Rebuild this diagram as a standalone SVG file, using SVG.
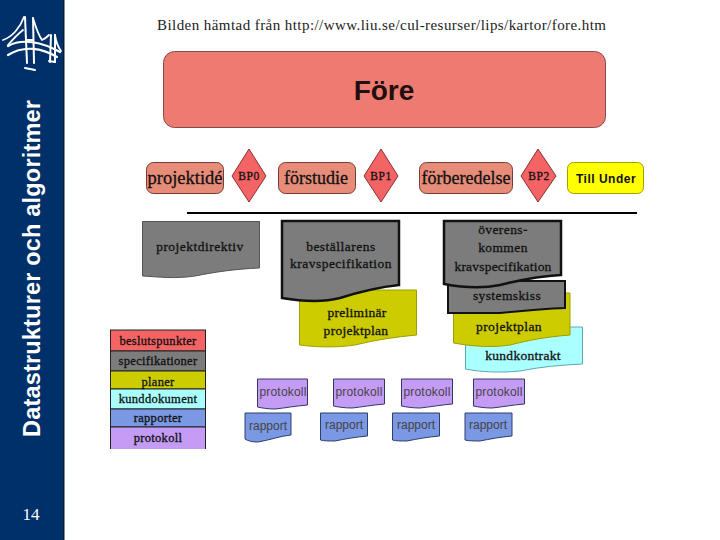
<svg xmlns="http://www.w3.org/2000/svg" width="720" height="540" viewBox="0 0 720 540">
<style>
.s{font-family:"Liberation Serif","Times New Roman",serif;fill:#111;stroke:#111;stroke-width:.3;text-anchor:middle}
.a{font-family:"Liberation Sans",Arial,sans-serif;fill:#444;text-anchor:middle}
.st{fill:#e88c7a;stroke:#7a3b30;stroke-width:1}
.d{fill:#f46464;stroke:#8a3030;stroke-width:1}
.g{fill:#7c7c7c}
.y{fill:#cccc00;stroke:#99a000;stroke-width:1}
.p{fill:#c49cf6;stroke:#333a60;stroke-width:1}
.r{fill:#7a98e4;stroke:#2f3f6c;stroke-width:1}
.lg{stroke:#222;stroke-width:1}
.b{fill:none;stroke:#fff;stroke-linecap:round}
</style>
<rect width="720" height="540" fill="#fff"/>
<g id="sidebar">
<rect x="0" y="0" width="63" height="540" fill="#00306a"/>
<rect x="63" y="0" width="1.500" height="540" fill="#0a1c30"/>
<g id="logo">
<path class="b" stroke-width="2" d="M25 17L27 63M33 18L34 63M51 35L50 62M55 35L55 62M26 40L33 40"/>
<path class="b" stroke-width="1.800" d="M3 40C12 37 20 28 24 17M33 18C36 28 39 36 42 40C45 39 47 37 49 35M55 35C56 42 58 47 61 51M8 45C14 38 18 34 23 30"/>
<path class="b" stroke-width="2.200" d="M8 46C22 38 42 42 60 52M8 55C24 45 42 48 57 57"/>
<path class="b" stroke-width="2" d="M25 68L35 70M49 61L55 62"/>
</g>
<text transform="translate(40 437) rotate(-90)" font-family="'Liberation Sans',Arial,sans-serif" font-size="23.500" font-weight="bold" fill="#fff" textLength="337" lengthAdjust="spacing">Datastrukturer och algoritmer</text>
<text x="31" y="520" text-anchor="middle" font-family="'Liberation Serif',serif" font-size="17" fill="#fff">14</text>
</g>
<text x="157" y="30" font-family="'Liberation Serif',serif" font-size="15" fill="#222" textLength="449" lengthAdjust="spacing">Bilden hämtad från http://www.liu.se/cul-resurser/lips/kartor/fore.htm</text>
<g id="fore"><rect x="163.500" y="51.500" width="442" height="76" rx="11" fill="#ee7b72" stroke="#8a4a44"/><text x="384" y="100" class="a" font-size="28" style="font-weight:bold;fill:#1f0f0f">Före</text></g>
<g id="projektide"><rect class="st" x="146.500" y="162.500" width="77" height="31" rx="7"/><text class="s" x="185" y="184" font-size="18.500">projektidé</text></g>
<g id="bp0"><path class="d" d="M249 149L266 176L249 202L232 176Z"/><text class="s" x="249" y="180" font-size="11.500" letter-spacing=".6">BP0</text></g>
<g id="forstudie"><rect class="st" x="278.500" y="162.500" width="77" height="31" rx="7"/><text class="s" x="316" y="184" font-size="18">förstudie</text></g>
<g id="bp1"><path class="d" d="M381 149L398 176L381 202L364 176Z"/><text class="s" x="381" y="180" font-size="11.500" letter-spacing=".6">BP1</text></g>
<g id="forberedelse"><rect class="st" x="419.500" y="162.500" width="93" height="31" rx="7"/><text class="s" x="466" y="184" font-size="18">förberedelse</text></g>
<g id="bp2"><path class="d" d="M538 149L556 176L538 202L521 176Z"/><text class="s" x="539" y="180" font-size="11.500" letter-spacing=".6">BP2</text></g>
<g id="till-under"><rect x="567.500" y="162.500" width="76" height="31" rx="6" fill="#ffff00" stroke="#a0a000"/><text x="606" y="183" font-size="12" font-weight="bold" class="a" letter-spacing=".5" style="fill:#111">Till Under</text></g>
<g id="connectors"><line x1="187" y1="213" x2="637" y2="213" stroke="#000" stroke-width="2"/></g>
<g id="projektdirektiv"><path class="g" stroke="#555" d="M142.500 221.500H259.500V268C235 269 215 272 195 276C175 279 160 277 142.500 276Z"/><text class="s" x="200" y="251" font-size="13.500" letter-spacing=".5">projektdirektiv</text></g>
<g id="prelim"><path class="y" d="M299.500 290H416.500V335C395 337 375 340 355 345C335 348 315 347 299.500 345Z"/><text class="s" x="357" y="317" font-size="13.500" letter-spacing=".3">preliminär</text><text class="s" x="356" y="335" font-size="13.500" letter-spacing=".3">projektplan</text></g>
<g id="bestallarens"><path class="g" stroke="#111" stroke-width="2.500" d="M282 221H399V285C380 287 362 291 340 298C320 303 300 301 282 298Z"/><text class="s" x="341" y="251" font-size="13.500" letter-spacing=".5">beställarens</text><text class="s" x="341" y="268" font-size="13.500" letter-spacing=".5">kravspecifikation</text></g>
<g id="kundkontrakt"><path fill="#aaffff" stroke="#60a8b0" d="M465.500 327H582.500V364C560 365 540 367 520 371C500 373 480 372 465.500 369Z"/><text class="s" x="523" y="360" font-size="13.500" letter-spacing=".3">kundkontrakt</text></g>
<g id="projektplan"><path class="y" d="M453.500 293H570V335C545 337 530 340 510 345C490 348 470 346 453.500 343Z"/><text class="s" x="509" y="331" font-size="13.500" letter-spacing=".4">projektplan</text></g>
<g id="systemskiss"><path class="g" stroke="#111" stroke-width="2" d="M448 281H565V308C540 309 520 311 500 313H448Z"/><text class="s" x="507" y="300" font-size="13.500" letter-spacing=".4">systemskiss</text></g>
<g id="overens"><path class="g" stroke="#111" stroke-width="2.500" d="M444 221H561V275C540 276 520 280 500 285C480 289 460 287 444 284Z"/><text class="s" x="503" y="234" font-size="13.500" letter-spacing=".4">överens-</text><text class="s" x="503" y="252" font-size="13.500" letter-spacing=".4">kommen</text><text class="s" x="503" y="271" font-size="13.500" letter-spacing=".2">kravspecifikation</text></g>
<g id="legend">
<rect class="lg" x="110.500" y="330" width="95" height="21" fill="#f46464"/>
<rect class="lg" x="110.500" y="351" width="95" height="20" fill="#7c7c7c"/>
<rect class="lg" x="110.500" y="371" width="95" height="18" fill="#cccc00"/>
<rect class="lg" x="110.500" y="389" width="95" height="20" fill="#aaffff"/>
<rect class="lg" x="110.500" y="409" width="95" height="18" fill="#7a98e4"/>
<path fill="#c49cf6" stroke="#222" d="M110.500 449V427H205.500V449"/>
<g class="s" font-size="12.500" letter-spacing=".3"><text x="158" y="345">beslutspunkter</text><text x="158" y="365">specifikationer</text><text x="158" y="386">planer</text><text x="158" y="403">kunddokument</text><text x="158" y="422">rapporter</text><text x="158" y="442">protokoll</text></g>
</g>
<g id="protokoll-1"><path class="p" d="M257.500 379H307.500V405C295 406 285 408 275 409C268 409 262 408 257.500 407Z"/><text class="a" x="283" y="396" font-size="12" letter-spacing=".2">protokoll</text></g>
<g id="protokoll-2"><path class="p" d="M333.500 379H384.500V404C372 405 362 407 352 408C345 408 338 407 333.500 406Z"/><text class="a" x="359" y="396" font-size="12" letter-spacing=".2">protokoll</text></g>
<g id="protokoll-3"><path class="p" d="M401.500 379H452.500V404C440 405 430 407 420 408C413 408 406 407 401.500 406Z"/><text class="a" x="427" y="396" font-size="12" letter-spacing=".2">protokoll</text></g>
<g id="protokoll-4"><path class="p" d="M473.500 379H524.500V404C512 405 502 407 492 408C485 408 478 407 473.500 406Z"/><text class="a" x="499" y="396" font-size="12" letter-spacing=".2">protokoll</text></g>
<g id="rapport-1"><path class="r" d="M245 413H291V435C280 436 270 440 258 442C252 442 248 441 245 439Z"/><text class="a" x="268" y="430" font-size="12">rapport</text></g>
<g id="rapport-2"><path class="r" d="M320.500 413H367.500V436C355 437 345 439 335 441C329 441 324 441 320.500 440Z"/><text class="a" x="344" y="429" font-size="12">rapport</text></g>
<g id="rapport-3"><path class="r" d="M392.500 413H439.500V436C427 437 417 439 407 441C401 441 396 441 392.500 440Z"/><text class="a" x="416" y="429" font-size="12">rapport</text></g>
<g id="rapport-4"><path class="r" d="M465 413H512V436C500 437 490 439 480 441C474 441 469 441 465 440Z"/><text class="a" x="488" y="429" font-size="12">rapport</text></g>
</svg>
